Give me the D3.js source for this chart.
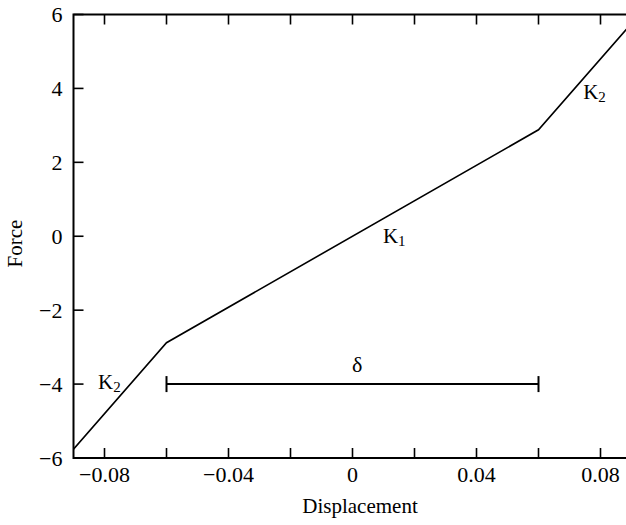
<!DOCTYPE html>
<html>
<head>
<meta charset="utf-8">
<script src="https://cdn.jsdelivr.net/npm/d3@7"></script>
<style>
  html, body { margin: 0; padding: 0; background: #fff; }
  svg { display: block; }
  text { font-family: "Liberation Serif", "Times New Roman", serif; fill: #000; }
</style>
</head>
<body>
<svg id="chart" width="626" height="525"></svg>
<script>
// Bilinear spring force–displacement curve
const displacement = [-0.09, -0.06, 0.06, 0.09];
const force = [-5.76, -2.88, 2.88, 5.76];

const xTicks = [-0.08, -0.06, -0.04, -0.02, 0, 0.02, 0.04, 0.06, 0.08];
const xTickLabels = [-0.08, -0.04, 0, 0.04, 0.08];
const yTicks = [-6, -4, -2, 0, 2, 4, 6];

// Gap marker (δ) spanning the soft band, drawn at this force level
const gapSpan = [-0.06, 0.06];
const gapForce = -4;

// Stiffness annotations (anchor = left end of the "K", on its baseline)
const annotations = [
  { x: 0.0744, y: 3.71, main: "K", sub: "2" },
  { x: 0.0098, y: -0.18, main: "K", sub: "1" },
  { x: -0.0821, y: -4.13, main: "K", sub: "2" }
];

const W = 626, H = 525;
const margin = { left: 73.5, top: 14.5, right: -5.5, bottom: 67 };

const svg = d3.select("#chart");
const x = d3.scaleLinear().domain([-0.09, 0.09]).range([margin.left, W - margin.right]);
const y = d3.scaleLinear().domain([-6, 6]).range([H - margin.bottom, margin.top]);

const fmtX = v => v === 0 ? "0" : (v < 0 ? "\u2212" + d3.format(".2f")(-v) : d3.format(".2f")(v));
const fmtY = v => v === 0 ? "0" : (v < 0 ? "\u2212" + (-v) : String(v));

// Frame
svg.append("rect")
  .attr("x", x(-0.09)).attr("y", y(6))
  .attr("width", x(0.09) - x(-0.09)).attr("height", y(-6) - y(6))
  .attr("fill", "none").attr("stroke", "#000").attr("stroke-width", 2);

const tickLen = 10;
const axisG = svg.append("g").attr("stroke", "#000").attr("stroke-width", 1.6);

// Inward ticks on bottom and top edges
xTicks.forEach(t => {
  axisG.append("line").attr("x1", x(t)).attr("x2", x(t))
    .attr("y1", y(-6)).attr("y2", y(-6) - tickLen);
  axisG.append("line").attr("x1", x(t)).attr("x2", x(t))
    .attr("y1", y(6)).attr("y2", y(6) + tickLen);
});
// Inward ticks on left edge
yTicks.forEach(t => {
  axisG.append("line").attr("x1", x(-0.09)).attr("x2", x(-0.09) + tickLen)
    .attr("y1", y(t)).attr("y2", y(t));
});

// Tick labels
svg.append("g").selectAll("text").data(xTickLabels).join("text")
  .attr("x", d => x(d)).attr("y", y(-6) + 24)
  .attr("text-anchor", "middle").attr("font-size", 22)
  .text(fmtX);

svg.append("g").selectAll("text").data(yTicks).join("text")
  .attr("x", x(-0.09) - 11).attr("y", d => y(d) + 7.5)
  .attr("text-anchor", "end").attr("font-size", 22)
  .text(fmtY);

// Axis titles
svg.append("text").attr("x", 360).attr("y", 513)
  .attr("text-anchor", "middle").attr("font-size", 21).text("Displacement");
svg.append("text").attr("transform", "translate(22,243.5) rotate(-90)")
  .attr("text-anchor", "middle").attr("font-size", 21).text("Force");

// Clip the curve to the plot region
svg.append("clipPath").attr("id", "plotClip").append("rect")
  .attr("x", x(-0.09)).attr("y", y(6))
  .attr("width", x(0.09) - x(-0.09)).attr("height", y(-6) - y(6));

const line = d3.line().x(d => x(d[0])).y(d => y(d[1]));
svg.append("path")
  .datum(d3.zip(displacement, force))
  .attr("clip-path", "url(#plotClip)")
  .attr("d", line)
  .attr("fill", "none").attr("stroke", "#000").attr("stroke-width", 1.6);

// δ span marker
const gap = svg.append("g").attr("stroke", "#000").attr("stroke-width", 2);
gap.append("line").attr("x1", x(gapSpan[0])).attr("x2", x(gapSpan[1]))
  .attr("y1", y(gapForce)).attr("y2", y(gapForce));
gapSpan.forEach(g => {
  gap.append("line").attr("x1", x(g)).attr("x2", x(g))
    .attr("y1", y(gapForce) - 8).attr("y2", y(gapForce) + 8);
});
svg.append("text").attr("x", x(0.0015)).attr("y", y(gapForce) - 12.5)
  .attr("text-anchor", "middle").attr("font-size", 22).text("\u03b4");

// Stiffness labels
annotations.forEach(a => {
  const t = svg.append("text").attr("x", x(a.x)).attr("y", y(a.y))
    .attr("font-size", 21);
  t.append("tspan").text(a.main);
  t.append("tspan").attr("font-size", 15).attr("dy", 3).text(a.sub);
});
</script>
</body>
</html>
